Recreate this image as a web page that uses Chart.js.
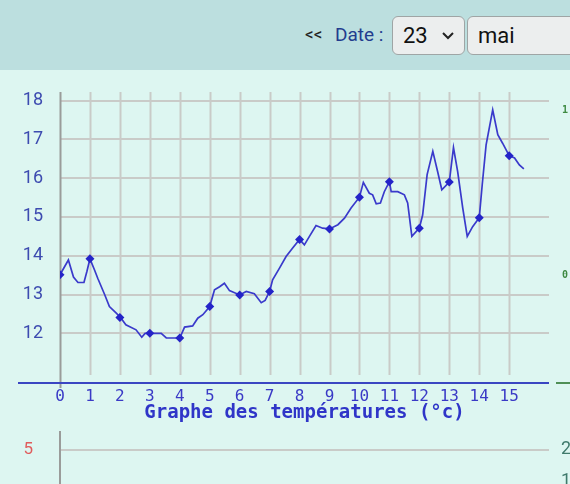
<!DOCTYPE html>
<html>
<head>
<meta charset="utf-8">
<script src="https://cdn.jsdelivr.net/npm/chart.js@4"></script>
<style>
  html, body { margin: 0; padding: 0; width: 570px; height: 484px; overflow: hidden; background: #ddf6f1; font-family: Roboto, "Liberation Sans", sans-serif; }
  #head { position: absolute; left: 0; top: 0; width: 570px; height: 70px; background: #bcdfdf; }
  .nav { position: absolute; left: 305px; top: 24px; font-size: 17px; color: #222; }
  .lbl { position: absolute; left: 335px; top: 23px; font-size: 19px; color: #233c8e; }
  .sel { position: absolute; top: 16px; height: 37px; border: 1.5px solid #9fa5a5; border-radius: 6px; background: #eceeee; font-size: 22px; color: #111; line-height: 37px; box-sizing: content-box; }
  .sel span { position: absolute; left: 10px; }
  .sel svg { position: absolute; left: 48px; top: 14px; }
  #wrap1 { position: absolute; left: 0; top: 70px; width: 570px; height: 360px; }
  #wrap2 { position: absolute; left: 0; top: 430px; width: 570px; height: 130px; }
</style>
</head>
<body>
<div id="head">
  <span class="nav">&lt;&lt;</span>
  <span class="lbl">Date :</span>
  <div class="sel" style="left:392px;width:71px"><span>23</span><svg width="14" height="9"><polyline points="2,2 7,7 12,2" fill="none" stroke="#222" stroke-width="2"/></svg></div>
  <div class="sel" style="left:467px;width:120px"><span>mai</span></div>
</div>
<div id="wrap1"><canvas id="chart_temp"></canvas></div>
<div id="wrap2"><canvas id="chart_next"></canvas></div>
<script>
const line_hours = [0, 0.28, 0.45, 0.6, 0.8, 0.9, 1, 1.15, 1.26, 1.49, 1.65, 1.88, 2.02, 2.2, 2.54, 2.73, 2.84, 3, 3.38, 3.55, 3.82,
    4, 4.16, 4.43, 4.6, 4.77, 5, 5.16, 5.33, 5.49, 5.66, 6, 6.22, 6.49, 6.72, 6.85, 7, 7.1, 7.33, 7.55, 7.77, 8, 8.16, 8.33, 8.55,
    8.77, 9, 9.28, 9.5, 9.72, 10, 10.13, 10.33, 10.44, 10.56, 10.7, 10.83, 11, 11.06, 11.28, 11.5, 11.61, 11.75, 12, 12.11, 12.26,
    12.45, 12.61, 12.75, 13, 13.14, 13.28, 13.45, 13.6, 13.78, 14, 14.1, 14.23, 14.45, 14.62, 14.78, 15, 15.18, 15.34, 15.49];
const line_temps = [13.51, 13.89, 13.45, 13.31, 13.31, 13.6, 13.92, 13.64, 13.42, 13.0, 12.69, 12.52, 12.41, 12.22, 12.09, 11.9, 12.0, 12.0, 12.0, 11.88, 11.88,
    11.88, 12.16, 12.19, 12.39, 12.48, 12.69, 13.12, 13.2, 13.29, 13.1, 12.99, 13.08, 13.02, 12.79, 12.85, 13.08, 13.38, 13.68, 13.98, 14.2, 14.42, 14.28, 14.5, 14.78,
    14.71, 14.69, 14.8, 14.97, 15.23, 15.51, 15.89, 15.61, 15.57, 15.34, 15.36, 15.65, 15.91, 15.65, 15.65, 15.57, 15.36, 14.5, 14.71, 15.05, 16.09,
    16.69, 16.17, 15.7, 15.9, 16.79, 16.17, 15.23, 14.5, 14.75, 14.98, 15.83, 16.86, 17.76, 17.12, 16.9, 16.58, 16.52, 16.34, 16.24];

const marker_hours = [0, 1, 2, 3, 4, 5, 6, 7, 8, 9, 10, 11, 12, 13, 14, 15];
const marker_temps = [13.51, 13.92, 12.41, 12.0, 11.88, 12.69, 12.99, 13.08, 14.42, 14.69, 15.51, 15.91, 14.71, 15.9, 14.98, 16.58];

const hour_ticks = [0, 1, 2, 3, 4, 5, 6, 7, 8, 9, 10, 11, 12, 13, 14, 15];
const temp_ticks = [12, 13, 14, 15, 16, 17, 18];
const right_ticks = [0, 1];
const next_left_ticks = [5];
const next_right_ticks = [1, 2];

const grid_color = "#c9cbc8";
const axis_gray = "#9a9c9a";
const no_color = "rgba(0,0,0,0)";

const temp_lines = {
    id: "temp_lines",
    beforeDatasetsDraw(chart) {
        const ctx = chart.ctx;
        const x = chart.scales.x;
        const area = chart.chartArea;
        ctx.save();
        ctx.lineWidth = 2;
        ctx.strokeStyle = grid_color;
        hour_ticks.forEach(h => {
            if (h === 0) return;
            const px = Math.round(x.getPixelForValue(h)) + 0.5;
            ctx.beginPath();
            ctx.moveTo(px, area.top);
            ctx.lineTo(px, area.bottom - 8);
            ctx.stroke();
        });
        const x0 = Math.round(x.getPixelForValue(0)) + 0.5;
        ctx.strokeStyle = axis_gray;
        ctx.beginPath();
        ctx.moveTo(x0, area.top);
        ctx.lineTo(x0, area.bottom + 5);
        ctx.stroke();
        ctx.strokeStyle = "#3a46c2";
        ctx.beginPath();
        ctx.moveTo(18, area.bottom);
        ctx.lineTo(area.right, area.bottom);
        ctx.stroke();
        ctx.strokeStyle = "#4f8f56";
        ctx.beginPath();
        ctx.moveTo(area.right + 7, area.bottom);
        ctx.lineTo(chart.width, area.bottom);
        ctx.stroke();
        ctx.restore();
    }
};

const chart_temp = document.getElementById("chart_temp");
const chart_temp1 = new Chart(chart_temp, {
    type: "line",
    data: {
        datasets: [{
            label: "Heures",
            data: marker_hours.map((h, i) => ({ x: h, y: marker_temps[i] })),
            showLine: false,
            pointStyle: "rectRot",
            pointRadius: 4.5,
            backgroundColor: "#2424c8",
            borderColor: "#2424c8",
            borderWidth: 0,
        }, {
            label: "Température",
            data: line_hours.map((h, i) => ({ x: h, y: line_temps[i] })),
            borderColor: "#3a3acb",
            borderWidth: 1.7,
            pointRadius: 0,
            tension: 0,
        }]
    },
    options: {
        responsive: true,
        maintainAspectRatio: false,
        animation: false,
        events: [],
        layout: { padding: { top: 22, left: 0, right: 0, bottom: 0 } },
        plugins: { legend: { display: false }, tooltip: { enabled: false } },
        scales: {
            x: {
                type: "linear",
                min: 0,
                max: 16.33,
                afterBuildTicks: s => { s.ticks = hour_ticks.map(v => ({ value: v })); },
                afterFit: s => { s.height = 47; },
                grid: { display: false, drawTicks: false },
                border: { display: false },
                ticks: {
                    padding: 4,
                    maxRotation: 0,
                    autoSkip: false,
                    color: "#3a3ac6",
                    font: { family: "DejaVu Sans Mono", size: 16 },
                },
                title: {
                    display: true,
                    text: "Graphe des températures (°c)",
                    color: "#2f35c8",
                    font: { family: "DejaVu Sans Mono", size: 19, weight: "bold" },
                    padding: { top: 0, bottom: 6 },
                },
            },
            y: {
                min: 10.72,
                max: 18.22,
                afterBuildTicks: s => { s.ticks = temp_ticks.map(v => ({ value: v })); },
                afterFit: s => { s.width = 60; },
                grid: { color: grid_color, lineWidth: 2, drawTicks: true, tickLength: 17, tickColor: no_color },
                border: { display: false },
                ticks: {
                    padding: 0,
                    color: "#3d4bb0",
                    font: { family: "Roboto", size: 18 },
                },
            },
            y2: {
                position: "right",
                min: -0.6545,
                max: 1.109,
                afterBuildTicks: s => { s.ticks = right_ticks.map(v => ({ value: v })); },
                afterFit: s => { s.width = 21; },
                grid: { display: false, drawTicks: true, tickLength: 13, tickColor: no_color },
                border: { display: false },
                ticks: {
                    padding: 0,
                    color: "#3e8a42",
                    font: { family: "DejaVu Sans Mono", size: 10, weight: "bold" },
                },
            },
        },
    },
    plugins: [temp_lines],
});

const chart_next = document.getElementById("chart_next");
const chart_next1 = new Chart(chart_next, {
    type: "line",
    data: { datasets: [{ data: [] }] },
    options: {
        responsive: true,
        maintainAspectRatio: false,
        animation: false,
        events: [],
        layout: { padding: { top: 2, left: 0, right: 0, bottom: 0 } },
        plugins: { legend: { display: false }, tooltip: { enabled: false } },
        scales: {
            x: { type: "linear", min: 0, max: 16.33, display: false },
            y: {
                min: 0,
                max: 5.818,
                afterBuildTicks: s => { s.ticks = next_left_ticks.map(v => ({ value: v })); },
                afterFit: s => { s.width = 60; },
                grid: { color: grid_color, lineWidth: 2, drawTicks: true, tickLength: 27, tickColor: no_color },
                border: { display: true, color: axis_gray, width: 2 },
                ticks: {
                    padding: 0,
                    color: "#e05c5c",
                    font: { family: "Roboto", size: 17, lineHeight: 0.2 },
                },
            },
            y2: {
                position: "right",
                min: -1.4375,
                max: 2.5625,
                afterBuildTicks: s => { s.ticks = next_right_ticks.map(v => ({ value: v })); },
                afterFit: s => { s.width = 21; },
                grid: { display: false, drawTicks: true, tickLength: 12, tickColor: no_color },
                border: { display: false },
                ticks: {
                    padding: 0,
                    color: "#3f7a6c",
                    font: { family: "Roboto", size: 18, lineHeight: 0.2 },
                },
            },
        },
    },
});
</script>
</body>
</html>
